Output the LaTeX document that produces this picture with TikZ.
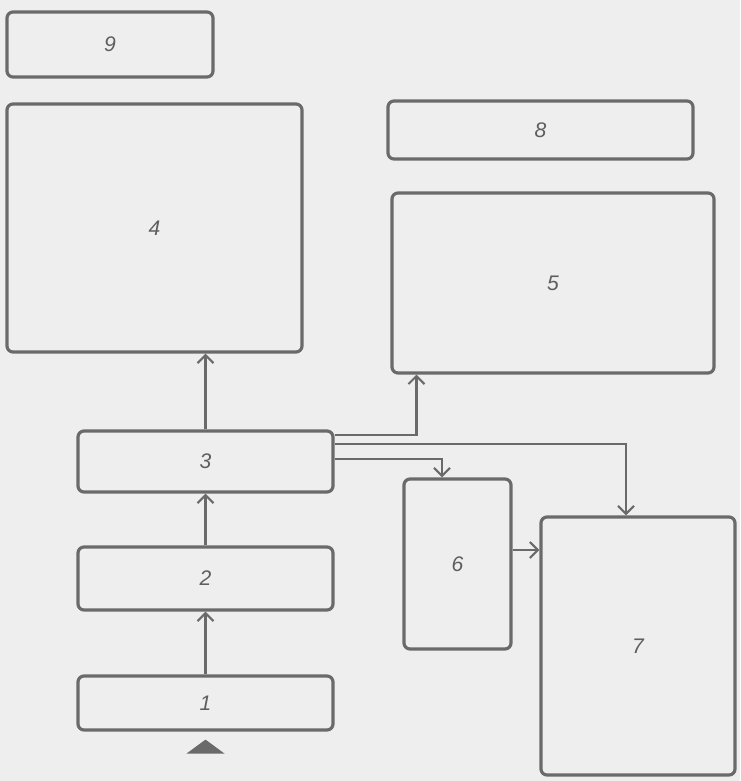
\documentclass[tikz,border=0pt]{standalone}
\usepackage{fontspec}
\setsansfont{Liberation Sans}
\usetikzlibrary{arrows.meta}
\definecolor{paper}{HTML}{EEEEEE}
\definecolor{ink}{HTML}{6A6A6A}
\definecolor{txt}{HTML}{5E5E5E}
\tikzset{
  blockbox/.style={draw=ink, line width=1.8pt, rounded corners=1.2mm,
    inner sep=0pt, font=\sffamily\itshape\fontsize{12}{14}\selectfont, text=txt},
  link/.style={draw=ink, line width=1.3pt, -{Straight Barb[length=1.6mm,width=3.2mm,line width=1.2pt]}}
}
\begin{document}
\begin{tikzpicture}
    % Hintergrund
    \fill[paper] (0,0) rectangle (14.8,-15.62);
    \useasboundingbox (0,0) rectangle (14.8,-15.62);
    % Bloecke
    \node[blockbox, minimum width=4.12cm, minimum height=1.30cm] (n9) at (2.20,-0.89) {9};
    \node[blockbox, minimum width=5.90cm, minimum height=4.96cm] (n4) at (3.09,-4.56) {4};
    \node[blockbox, minimum width=6.10cm, minimum height=1.16cm] (n8) at (10.81,-2.60) {8};
    \node[blockbox, minimum width=6.44cm, minimum height=3.60cm] (n5) at (11.06,-5.66) {5};
    \node[blockbox, minimum width=5.10cm, minimum height=1.22cm] (n3) at (4.11,-9.23) {3};
    \node[blockbox, minimum width=5.10cm, minimum height=1.26cm] (n2) at (4.11,-11.57) {2};
    \node[blockbox, minimum width=5.10cm, minimum height=1.08cm] (n1) at (4.11,-14.06) {1};
    \node[blockbox, minimum width=2.14cm, minimum height=3.40cm] (n6) at (9.15,-11.28) {6};
    \node[blockbox, minimum width=3.88cm, minimum height=5.16cm] (n7) at (12.76,-12.92) {7};
    % Verbindungen
    \draw[link] (n1.north) -- (n2.south);
    \draw[link] (n2.north) -- (n3.south);
    \draw[link] (n3.north) -- (n3.north |- n4.south);
    \draw[link] ([yshift=5.3mm]n3.east) -| ([xshift=5.2mm]n5.south west);
    \draw[link] ([yshift=3.5mm]n3.east) -| ([xshift=-2.4mm]n7.north);
    \draw[link] ([yshift=0.5mm]n3.east) -| ([xshift=-3.1mm]n6.north);
    \draw[link] ([yshift=2.8mm]n6.east) -- ([yshift=2.8mm]n6.east -| n7.west);
    % Eingang
    \fill[ink] ([yshift=-1.6mm]n1.south) -- ++(-0.38,-0.28) -- ++(0.76,0) -- cycle;
\end{tikzpicture}
\end{document}
